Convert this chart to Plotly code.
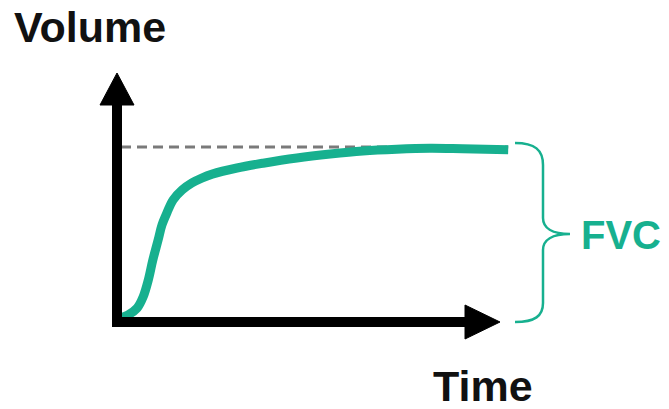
import plotly.graph_objects as go

# ---- data ----
time_s = [0.05, 0.17, 0.31, 0.40, 0.48, 0.55, 0.63, 0.69, 0.77, 0.86, 1.00, 1.15,
          1.30, 1.46, 1.84, 2.24, 2.76, 3.27, 3.77, 4.29, 4.80, 5.30, 6.00]
volume_l = [0.09, 0.16, 0.32, 0.57, 0.96, 1.42, 1.87, 2.22, 2.51, 2.79, 3.02, 3.18,
            3.29, 3.38, 3.52, 3.63, 3.75, 3.84, 3.91, 3.95, 3.97, 3.96, 3.94]
fvc_l = 4.0
fvc_label = "FVC"
x_title = "Time"
y_title = "Volume"

# ---- layout constants ----
W, H = 669, 409
ORIGIN_PX = (117, 322)      # pixel of (t=0, v=0)
SX = 65.2                   # px per second
SY = 43.75                  # px per litre
TEAL = "#17b08f"
FONT = "Liberation Sans, Arial, sans-serif"

x_range = [-ORIGIN_PX[0] / SX, (W - ORIGIN_PX[0]) / SX]
y_range = [-(H - ORIGIN_PX[1]) / SY, ORIGIN_PX[1] / SY]


def px2x(px):
    return (px - ORIGIN_PX[0]) / SX


def px2y(py):
    return (ORIGIN_PX[1] - py) / SY


fig = go.Figure()

# FVC reference dashed line
fig.add_trace(go.Scatter(
    x=[px2x(121), time_s[-1]], y=[fvc_l, fvc_l], mode="lines",
    line=dict(color="#7a7a7a", width=3, dash="10px,6px"), hoverinfo="skip"))

# volume-time curve
fig.add_trace(go.Scatter(
    x=time_s, y=volume_l, mode="lines",
    line=dict(color=TEAL, width=9, shape="spline", smoothing=1.0),
    hoverinfo="skip"))

shapes = []
# axes lines
shapes.append(dict(type="line", xref="x", yref="y", x0=0, x1=0,
                   y0=px2y(327), y1=px2y(100), line=dict(color="black", width=10)))
shapes.append(dict(type="line", xref="x", yref="y", x0=px2x(112), x1=px2x(470),
                   y0=0, y1=0, line=dict(color="black", width=10)))
# arrowheads
ya = f"M {px2x(100)},{px2y(105)} L {px2x(117)},{px2y(73)} L {px2x(134)},{px2y(105)} Z"
xa = f"M {px2x(465)},{px2y(305)} L {px2x(500)},{px2y(322)} L {px2x(465)},{px2y(339)} Z"
for p in (ya, xa):
    shapes.append(dict(type="path", xref="x", yref="y", path=p,
                       fillcolor="black", line=dict(color="black", width=1)))

# brace
b = [(515, 143), (535, 143), (543, 150), (543, 165), (543, 218), (543, 228), (552, 234),
     (570, 234), (552, 234), (543, 240), (543, 250), (543, 303), (543, 316), (535, 322), (515, 322)]
bd = [(px2x(a), px2y(c)) for a, c in b]
brace = (f"M {bd[0][0]},{bd[0][1]} C {bd[1][0]},{bd[1][1]} {bd[2][0]},{bd[2][1]} {bd[3][0]},{bd[3][1]} "
         f"L {bd[4][0]},{bd[4][1]} C {bd[5][0]},{bd[5][1]} {bd[6][0]},{bd[6][1]} {bd[7][0]},{bd[7][1]} "
         f"C {bd[8][0]},{bd[8][1]} {bd[9][0]},{bd[9][1]} {bd[10][0]},{bd[10][1]} "
         f"L {bd[11][0]},{bd[11][1]} C {bd[12][0]},{bd[12][1]} {bd[13][0]},{bd[13][1]} {bd[14][0]},{bd[14][1]}")
shapes.append(dict(type="path", xref="x", yref="y", path=brace,
                   line=dict(color=TEAL, width=2.5)))

annotations = [
    dict(text=y_title, x=90 / W, y=1 - 27 / H, xref="paper", yref="paper",
         showarrow=False, xanchor="center", yanchor="middle",
         font=dict(family=FONT, size=43, color="#111111", weight="bold")),
    dict(text=x_title, x=483 / W, y=1 - 386 / H, xref="paper", yref="paper",
         showarrow=False, xanchor="center", yanchor="middle",
         font=dict(family=FONT, size=43, color="#111111", weight="bold")),
    dict(text=fvc_label, x=621 / W, y=1 - 235 / H, xref="paper", yref="paper",
         showarrow=False, xanchor="center", yanchor="middle",
         font=dict(family=FONT, size=40, color=TEAL, weight="bold")),
]

fig.update_layout(
    width=W, height=H, autosize=False,
    margin=dict(l=0, r=0, t=0, b=0, pad=0),
    paper_bgcolor="white", plot_bgcolor="white",
    showlegend=False,
    xaxis=dict(range=x_range, visible=False, fixedrange=True),
    yaxis=dict(range=y_range, visible=False, fixedrange=True),
    shapes=shapes, annotations=annotations,
)

fig.write_html("out.html", config={"displayModeBar": False},
               post_script="document.body.style.margin='0px';document.body.style.overflow='hidden';")
